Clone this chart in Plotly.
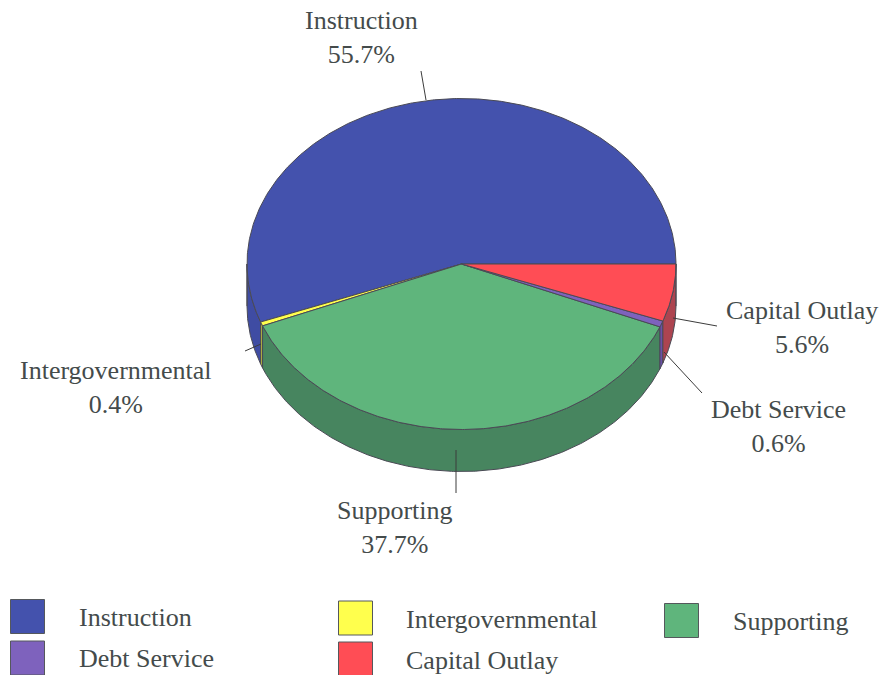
import numpy as np
import plotly.graph_objects as go

categories = ["Instruction", "Intergovernmental", "Supporting", "Debt Service", "Capital Outlay"]
shares = [55.7, 0.4, 37.7, 0.6, 5.6]
top_colors = ["#4452ad", "#ffff4d", "#5fb57c", "#7e62bd", "#ff4d55"]
wall_colors = ["#3f4ca3", "#b5b540", "#47855f", "#6a4fa8", "#ad4450"]

# Layout of the drawing, in page pixels
CX, CY, RX, RY, DEPTH = 461.5, 264, 214.5, 165.5, 42
EDGE = "#4a4a55"
TEXT = "#444b4b"
FONT = "Liberation Serif"
FS = 26

callouts = {
    "Instruction": (361, 37.5, 421, 71, 426, 100),
    "Intergovernmental": (116, 387.5, 245, 351, 261, 344),
    "Supporting": (395, 527.5, 456, 493, 456, 450),
    "Debt Service": (778, 426.5, 702, 393, 664, 352),
    "Capital Outlay": (802, 327.5, 717, 326, 673, 318),
}
legend_slots = {
    "Instruction": (27.5, 616.5, 77, 617.5),
    "Debt Service": (27.5, 658, 77, 658.5),
    "Intergovernmental": (355.5, 618, 404, 619.5),
    "Capital Outlay": (355.5, 659, 404, 660.5),
    "Supporting": (681.5, 620.5, 731, 621.5),
}

fig = go.Figure()
edges = np.cumsum([0] + shares) / sum(shares) * 360.0


def arc(a0, a1):
    t = np.radians(np.linspace(a0, a1, max(3, int(abs(a1 - a0) * 2) + 2)))
    return CX + RX * np.cos(t), CY - RY * np.sin(t)


# side walls: only the part of each slice that lies on the front half
for i, name in enumerate(categories):
    a0, a1 = max(edges[i], 180.0), min(edges[i + 1], 360.0)
    if a1 <= a0:
        continue
    x, y = arc(a0, a1)
    fig.add_trace(go.Scatter(
        x=np.r_[x, x[::-1], x[0]], y=np.r_[y, y[::-1] + DEPTH, y[0]],
        mode="lines", fill="toself", fillcolor=wall_colors[i],
        line=dict(color=EDGE, width=1), hoverinfo="skip", showlegend=False))

# top faces
for i, name in enumerate(categories):
    x, y = arc(edges[i], edges[i + 1])
    fig.add_trace(go.Scatter(
        x=np.r_[CX, x, CX], y=np.r_[CY, y, CY],
        mode="lines", fill="toself", fillcolor=top_colors[i],
        line=dict(color=EDGE, width=1), name=name,
        hovertemplate=f"{name}: {shares[i]}%<extra></extra>", showlegend=False))

# outer silhouette of the left and right wall ends
for a in (180.0, 360.0):
    x, y = arc(a, a)
    fig.add_trace(go.Scatter(x=[x[0], x[0]], y=[y[0], y[0] + DEPTH], mode="lines",
                             line=dict(color=EDGE, width=1), hoverinfo="skip", showlegend=False))

# call-outs
for i, name in enumerate(categories):
    tx, ty, x0, y0, x1, y1 = callouts[name]
    fig.add_trace(go.Scatter(x=[x0, x1], y=[y0, y1], mode="lines",
                             line=dict(color="#3c3c3c", width=1), hoverinfo="skip", showlegend=False))
    fig.add_annotation(x=tx, y=ty, text=f"{name}<br>{shares[i]}%", showarrow=False,
                       xanchor="center", yanchor="middle", align="center",
                       font=dict(family=FONT, size=FS, color=TEXT))

# key
for i, name in enumerate(categories):
    mx, my, lx, ly = legend_slots[name]
    fig.add_trace(go.Scatter(x=[mx], y=[my], mode="markers",
                             marker=dict(symbol="square", size=34, color=top_colors[i],
                                         line=dict(color="#55585c", width=1)),
                             hoverinfo="skip", showlegend=False))
    fig.add_annotation(x=lx, y=ly, text=name, showarrow=False, xanchor="left", yanchor="middle",
                       font=dict(family=FONT, size=FS, color=TEXT))

fig.update_layout(
    width=883, height=675, margin=dict(l=0, r=0, t=0, b=0),
    paper_bgcolor="white", plot_bgcolor="white", showlegend=False,
    xaxis=dict(range=[0, 883], visible=False, fixedrange=True),
    yaxis=dict(range=[675, 0], visible=False, fixedrange=True),
)
fig.write_html("out.html", config={"displayModeBar": False},
               post_script="document.body.style.margin='0';document.body.style.overflow='hidden';")
